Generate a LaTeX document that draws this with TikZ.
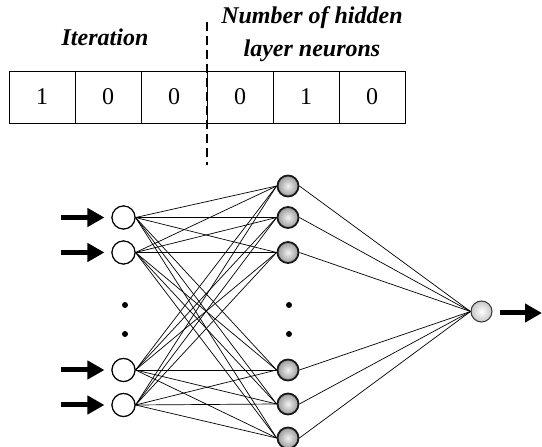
\documentclass[tikz,border=0pt]{standalone}
\usepackage{fontspec}
\setmainfont{Liberation Serif}
\usetikzlibrary{arrows.meta}
\begin{document}
\begin{tikzpicture}[x=1pt,y=1pt,
 cell/.style={draw, line width=0.9pt, minimum width=66pt, minimum height=52pt, inner sep=0pt, outer sep=0pt, font=\fontsize{24}{28}\selectfont},
 inneuron/.style={circle, draw, line width=1.1pt, fill=white, minimum size=23pt, inner sep=0pt},
 hidneuron/.style={circle, draw=black!90, line width=1.8pt, shading=radial, inner color=gray!10, outer color=gray!80, minimum size=21pt, inner sep=0pt},
 outneuron/.style={circle, draw=black!80, line width=1pt, shading=radial, inner color=white, outer color=gray!45, minimum size=21pt, inner sep=0pt},
 conn/.style={line width=0.7pt},
 bigarrow/.style={line width=5pt, -{Triangle[length=17pt,width=18pt]}},
 vdot/.style={circle, fill=black, minimum size=6pt, inner sep=0pt},
 headtext/.style={font=\fontsize{24}{33}\selectfont\bfseries\itshape, align=center, inner sep=0pt},
 divider/.style={line width=1.8pt, dash pattern=on 9pt off 5pt}
]
\useasboundingbox (0,0) rectangle (542,447);

% header texts
\node[headtext] (titer) at (105,410) {Iteration};
\node[headtext] (thid) at (312,413) {Number of hidden\\layer neurons};

% chromosome cells
\node[cell] (c1) at (42,350) {1};
\node[cell] (c2) at (108,350) {0};
\node[cell] (c3) at (174,350) {0};
\node[cell] (c4) at (240,350) {0};
\node[cell] (c5) at (306,350) {1};
\node[cell] (c6) at (372,350) {0};

% divider
\coordinate (dtop) at (207,425);
\coordinate (dbot) at (207,282);
\draw[divider] (dtop) -- (dbot);

% input neurons
\node[inneuron] (i1) at (123.5,229.5) {};
\node[inneuron] (i2) at (123.5,194.5) {};
\node[inneuron] (i3) at (123.5,77) {};
\node[inneuron] (i4) at (123.5,42) {};

% hidden neurons
\node[hidneuron] (h1) at (288,261) {};
\node[hidneuron] (h2) at (288,229.5) {};
\node[hidneuron] (h3) at (288,194.5) {};
\node[hidneuron] (h4) at (288,77) {};
\node[hidneuron] (h5) at (288,43) {};
\node[hidneuron] (h6) at (288,9) {};

% output neuron
\node[outneuron] (o) at (481.5,135.5) {};

% dots
\node[vdot] (dl1) at (125,142) {};
\node[vdot] (dl2) at (125,113) {};
\node[vdot] (dr1) at (289,142) {};
\node[vdot] (dr2) at (289,113) {};

% connections
\foreach \i in {1,...,4}
  \foreach \j in {1,...,6}
    \draw[conn] (i\i.east) -- (h\j.west);
\foreach \j in {1,...,6}
  \draw[conn] (h\j.east) -- (o.west);

% redraw neurons on top
\node[inneuron] at (i1) {};
\node[inneuron] at (i2) {};
\node[inneuron] at (i3) {};
\node[inneuron] at (i4) {};

% input arrows
\coordinate (a1) at (61,229.5);
\coordinate (a2) at (61,194.5);
\coordinate (a3) at (61,77);
\coordinate (a4) at (61,42);
\foreach \k in {1,...,4}
  \draw[bigarrow, shorten >=7pt] (a\k) -- (i\k.west);

% output arrow
\coordinate (oend) at (542,134);
\draw[bigarrow, shorten <=7pt] (o.east |- oend) -- (oend);
\end{tikzpicture}
\end{document}
